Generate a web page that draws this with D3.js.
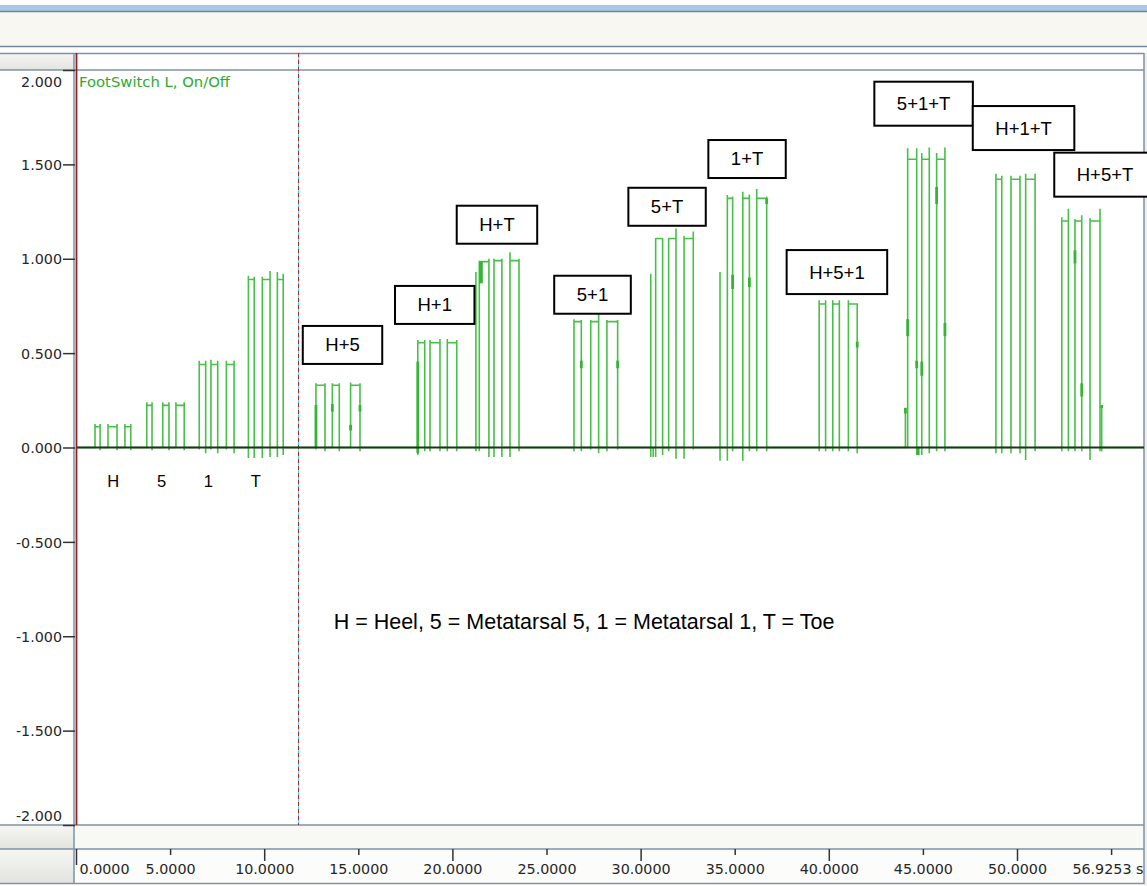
<!DOCTYPE html>
<html><head><meta charset="utf-8">
<script src="https://cdn.jsdelivr.net/npm/d3@7"></script>
<style>body{margin:0;background:#fff;overflow:hidden} svg{display:block}</style>
</head><body>
<script>
// ---------------- DATA ----------------
const seriesName = "FootSwitch L, On/Off";
const timeEnd = 56.9253;
const yTicks = [2, 1.5, 1, 0.5, 0, -0.5, -1, -1.5, -2];
const xTicks = [0, 5, 10, 15, 20, 25, 30, 35, 40, 45, 50, 55];
const xTickLabels = ["0.0000","5.0000","10.0000","15.0000","20.0000","25.0000","30.0000","35.0000","40.0000","45.0000","50.0000","56.9253 s"];
const markerTime = 11.77;

// pulses (seconds / volts)
const pulseStart = [1.01,1.70,2.60, 3.76,4.61,5.31, 6.55,7.17,7.99, 9.16,9.90,10.70, 12.75,13.62,14.59, 18.16,18.81,19.73, 21.43,22.21,23.06, 26.46,27.35,28.21, 30.80,31.49,32.31, 34.61,35.43,36.17, 39.49,40.21,41.04, 44.19,44.94,45.73, 48.88,49.68,50.46, 52.38,53.08,53.88];
const pulseEnd   = [1.28,2.18,2.91, 4.04,4.94,5.75, 6.89,7.53,8.40, 9.47,10.31,11.01, 13.23,13.99,15.09, 18.53,19.34,20.23, 21.94,22.63,23.54, 26.85,27.77,28.78, 31.17,31.88,32.80, 34.89,35.78,36.70, 39.83,40.56,41.51, 44.67,45.34,46.17, 49.19,50.16,50.96, 52.73,53.44,54.41];
const pulseLevel = [0.11,0.11,0.11, 0.223,0.223,0.223, 0.44,0.44,0.44, 0.89,0.89,0.89, 0.33,0.33,0.33, 0.555,0.555,0.555, 0.985,0.99,0.99, 0.667,0.667,0.667, 1.107,1.107,1.107, 1.32,1.32,1.32, 0.76,0.76,0.76, 1.527,1.527,1.527, 1.421,1.421,1.421, 1.2,1.2,1.2];
const risePeak   = [0.125,0.125,0.125, 0.24,0.24,0.24, 0.46,0.465,0.46, 0.91,0.905,0.93, 0.34,0.34,0.345, 0.57,0.57,0.575, 0.985,1.0,1.035, 0.68,0.675,0.675, 1.11,1.11,1.12, 1.338,1.355,1.37, 0.78,0.78,0.78, 1.585,1.56,1.56, 1.45,1.44,1.45, 1.22,1.21,1.215];
const fallPeak   = [0.125,0.125,0.125, 0.24,0.24,0.24, 0.46,0.46,0.46, 0.905,0.935,0.92, 0.34,0.34,0.34, 0.57,0.575,0.57, 1.0,1.0,1.0, 0.675,0.71,0.675, 1.11,1.16,1.145, 1.33,1.34,1.33, 0.78,0.78,0.76, 1.585,1.59,1.59, 1.44,1.44,1.45, 1.265,1.23,1.265];
const riseDip    = [0,0,0, 0,0,0, -0.01,-0.01,-0.01, -0.055,-0.055,-0.05, -0.01,0,0, -0.04,-0.02,-0.02, -0.02,-0.05,-0.05, -0.02,-0.01,-0.02, -0.05,-0.02,-0.06, -0.07,-0.07,-0.02, -0.02,-0.02,-0.02, 0,-0.04,-0.02, -0.03,-0.03,-0.066, -0.02,-0.02,-0.066];
const fallDip    = [-0.015,-0.015,-0.015, -0.015,-0.015,-0.015, -0.03,-0.03,-0.03, -0.055,-0.05,-0.04, -0.02,-0.02,-0.02, -0.02,-0.02,-0.02, -0.05,-0.05,-0.02, -0.02,-0.03,-0.01, -0.04,-0.06,-0.01, -0.02,-0.02,-0.02, -0.02,-0.02,-0.03, -0.04,-0.03,-0.02, -0.03,-0.03,-0.02, -0.02,-0.02,-0.02];

// single-sample spikes (time, low, high)
const spikeTime = [21.25, 30.54, 30.67, 34.22, 44.07, 54.50];
const spikeLow  = [-0.02, -0.05, -0.05, -0.07, 0, -0.02];
const spikeHigh = [0.93, 0.92, 0, 0.93, 0.21, 0.22];

// dense (thick) transition segments (time, low, high)
const glitchTime = [12.75,13.62,14.59,15.09, 18.16, 21.52, 26.85,28.78, 34.89,35.78,36.70, 41.51, 44.07,44.19,44.67,44.94,45.73,46.17,44.75, 53.08,53.44,54.50];
const glitchLow  = [0.0,0.19,0.09,0.19, -0.03, 0.87, 0.42,0.42, 0.84,0.85,1.29, 0.53, 0.18,0.59,0.42,0.38,1.29,0.59,-0.04, 0.975,0.27,0.21];
const glitchHigh = [0.225,0.23,0.12,0.225, 0.455, 0.985, 0.46,0.46, 0.915,0.90,1.32, 0.56, 0.21,0.68,0.46,0.455,1.38,0.66,0.0, 1.045,0.34,0.225];

// annotations
const annoLabels = ["H+5","H+1","H+T","5+1","5+T","1+T","H+5+1","5+1+T","H+1+T","H+5+T"];
const annoTime   = [12.05,16.95,20.23,25.41,29.35,33.60,37.76,42.42,47.65,51.98];
const annoValue  = [0.644,0.856,1.281,0.910,1.376,1.629,1.046,1.938,1.809,1.562];
const groupLabels = ["H","5","1","T"];
const groupLabelTime = [1.98,4.55,7.03,9.56];
const groupLabelValue = -0.176;
const legendText = "H = Heel, 5 = Metatarsal 5, 1 = Metatarsal 1, T = Toe";
const legendTime = 13.69, legendValue = -0.962;

// ---------------- LAYOUT ----------------
const W = 1147, H = 886;
const plotL = 76, plotR = 1144, plotT = 70, plotB = 825;
const x = d3.scaleLinear().domain([0, timeEnd]).range([plotL, plotL + timeEnd * 18.82]);
const y = d3.scaleLinear().domain([-2, 2]).range([plotB, plotT]);
const frame = "#7d92a6";
const uiFont = "'DejaVu Sans', Verdana, sans-serif";
const txtFont = "'Liberation Sans', Arial, sans-serif";

const svg = d3.select("body").append("svg").attr("width", W).attr("height", H);
const defs = svg.append("defs");
const g1 = defs.append("linearGradient").attr("id","lg").attr("x1",0).attr("y1",0).attr("x2",0).attr("y2",1);
g1.append("stop").attr("offset","0%").attr("stop-color","#f6f6f3");
g1.append("stop").attr("offset","100%").attr("stop-color","#e3e3e0");
defs.append("clipPath").attr("id","clip").append("rect")
  .attr("x", plotL + 1).attr("y", plotT).attr("width", plotR - plotL - 1).attr("height", plotB - plotT);

// background bands
svg.append("rect").attr("x",0).attr("y",0).attr("width",W).attr("height",H).attr("fill","#ffffff");
svg.append("rect").attr("x",0).attr("y",5).attr("width",W).attr("height",6).attr("fill","#abc8e6");
svg.append("rect").attr("x",0).attr("y",11).attr("width",W).attr("height",35).attr("fill","#f8f7f2");
svg.append("rect").attr("x",0).attr("y",47).attr("width",W).attr("height",6).attr("fill","#fdfdfc");
svg.append("rect").attr("x",0).attr("y",53).attr("width",74).attr("height",17).attr("fill","url(#lg)");
svg.append("rect").attr("x",0).attr("y",plotB).attr("width",74).attr("height",24).attr("fill","url(#lg)");
svg.append("rect").attr("x",74).attr("y",plotB).attr("width",plotR-74).attr("height",24).attr("fill","#f8f8f5");
svg.append("rect").attr("x",0).attr("y",849).attr("width",74).attr("height",34).attr("fill","url(#lg)");
svg.append("rect").attr("x",74).attr("y",849).attr("width",plotR-74).attr("height",34).attr("fill","#fcfcfa");
svg.append("rect").attr("x",plotR).attr("y",53).attr("width",W-plotR).attr("height",H-53).attr("fill","#eeeeec");

const hl = (yy, x0, x1, c, w) => svg.append("line").attr("x1",x0).attr("x2",x1).attr("y1",yy).attr("y2",yy).attr("stroke",c).attr("stroke-width",w);
const vl = (xx, y0, y1, c, w) => svg.append("line").attr("x1",xx).attr("x2",xx).attr("y1",y0).attr("y2",y1).attr("stroke",c).attr("stroke-width",w);
hl(11.5, 0, W, "#6e8499", 1.5);
hl(46.5, 0, W, "#7088a0", 1.5);
hl(53.5, 0, plotR, frame, 1.5);
hl(plotT, 0, plotR, frame, 1.5);
hl(plotB, 0, plotR, frame, 1.5);
hl(849, 0, plotR, frame, 1.5);
hl(883.5, 0, plotR, frame, 1.5);
vl(74, 53, 884, frame, 1.5);
vl(plotR, 53, 884, frame, 1.5);

// marker (dashed) line: cyan with red dashes
const mx = Math.round(x(markerTime)) + 0.5;
vl(mx, 53, plotB, "#5fd3e6", 1).attr("shape-rendering","crispEdges");
svg.append("line").attr("x1",mx).attr("x2",mx).attr("y1",53).attr("y2",plotB)
  .attr("stroke","#b02525").attr("stroke-width",1).attr("stroke-dasharray","4,3")
  .attr("shape-rendering","crispEdges");

// ---------------- SIGNAL ----------------
const plot = svg.append("g").attr("clip-path","url(#clip)");
const pts = [[0,0]];
pulseStart.forEach((t0,i) => {
  const t1 = pulseEnd[i], L = pulseLevel[i];
  pts.push([t0,0],[t0,riseDip[i]],[t0,risePeak[i]],[t0,L],[t1,L],[t1,fallPeak[i]],[t1,fallDip[i]],[t1,0]);
});
pts.push([timeEnd,0]);
const line = d3.line().x(d => x(d[0])).y(d => y(d[1]));
const green = "#48bf48";
plot.append("path").attr("d", line(pts)).attr("fill","none").attr("stroke",green)
  .attr("stroke-width",1.6).attr("stroke-linejoin","miter");
plot.selectAll("line.spike").data(spikeTime).join("line").attr("class","spike")
  .attr("x1",d=>x(d)).attr("x2",d=>x(d))
  .attr("y1",(d,i)=>y(spikeLow[i])).attr("y2",(d,i)=>y(spikeHigh[i]))
  .attr("stroke",green).attr("stroke-width",1.6);
plot.selectAll("line.glitch").data(glitchTime).join("line").attr("class","glitch")
  .attr("x1",d=>x(d)).attr("x2",d=>x(d))
  .attr("y1",(d,i)=>y(glitchLow[i])).attr("y2",(d,i)=>y(glitchHigh[i]))
  .attr("stroke","#36b436").attr("stroke-width",(d,i)=> i===5 ? 3.6 : 2.8);
// baseline
plot.append("line").attr("x1",x(0)).attr("x2",x(timeEnd)).attr("y1",y(0)).attr("y2",y(0))
  .attr("stroke","#1d351d").attr("stroke-width",2);

// red origin line
vl(plotL + 0.5, 53, plotB, "#9a2020", 1.8);

// ---------------- AXES ----------------
const yAxis = svg.append("g").attr("transform",`translate(75,0)`)
  .call(d3.axisLeft(y).tickValues(yTicks).tickSize(12).tickPadding(1).tickFormat(d => d.toFixed(3)));
yAxis.select(".domain").remove();
yAxis.selectAll(".tick line").attr("stroke","#333").attr("stroke-width",1.5);
yAxis.selectAll(".tick text").attr("fill","#262626").style("font-family",uiFont).style("font-size","14.3px")
  .attr("dy", d => d === 2 ? "1.15em" : d === -2 ? "-0.35em" : "0.36em");

const xAxis = svg.append("g").attr("transform",`translate(0,849)`)
  .call(d3.axisBottom(x).tickValues(xTicks).tickSize(6).tickFormat((d,i) => xTickLabels[i]));
xAxis.select(".domain").remove();
xAxis.selectAll(".tick line").attr("stroke","#333").attr("stroke-width",1.5)
  .attr("y2", d => d === 0 ? 16 : (d % 10 === 0 ? 12 : 6));
xAxis.selectAll(".tick text").attr("fill","#262626").style("font-family",uiFont).style("font-size","14.3px")
  .attr("y", 25).attr("dy", 0)
  .attr("text-anchor", d => d === 0 ? "start" : (d === 55 ? "end" : "middle"))
  .attr("x", d => d === 0 ? 3 : (d === 55 ? plotR - 1 - x(55) : 0));

// ---------------- TEXT ----------------
svg.append("text").attr("x", x(0) + 3).attr("y", 87).text(seriesName)
  .attr("fill","#2eab2e").style("font-family",uiFont).style("font-size","14.8px");

svg.selectAll("text.grp").data(groupLabels).join("text").attr("class","grp")
  .attr("x",(d,i)=>x(groupLabelTime[i])).attr("y",y(groupLabelValue)).attr("dy","0.36em")
  .attr("text-anchor","middle").text(d=>d)
  .style("font-family",txtFont).style("font-size","16.5px").attr("fill","#000");

svg.append("text").attr("x", x(legendTime)).attr("y", y(legendValue)).text(legendText)
  .style("font-family",txtFont).style("font-size","21.5px").attr("fill","#000");

// annotation boxes
const ann = svg.selectAll("g.ann").data(annoLabels).join("g").attr("class","ann")
  .attr("transform",(d,i)=>`translate(${x(annoTime[i])},${y(annoValue[i])})`);
ann.each(function(d){
  const g = d3.select(this);
  const parts = d.split("+").length;
  const h = parts > 2 ? 44 : 38;
  const rect = g.append("rect").attr("fill","#fff").attr("stroke","#000").attr("stroke-width",2);
  const t = g.append("text").text(d).style("font-family",txtFont).style("font-size","18.5px")
    .attr("text-anchor","middle").attr("dy","0.35em").attr("fill","#000");
  const tw = t.node().getComputedTextLength();
  const w = Math.max(76.6, tw + 45);
  rect.attr("x",0).attr("y",0).attr("width",w).attr("height",h);
  t.attr("x", w/2).attr("y", h/2);
});
</script>
</body></html>
